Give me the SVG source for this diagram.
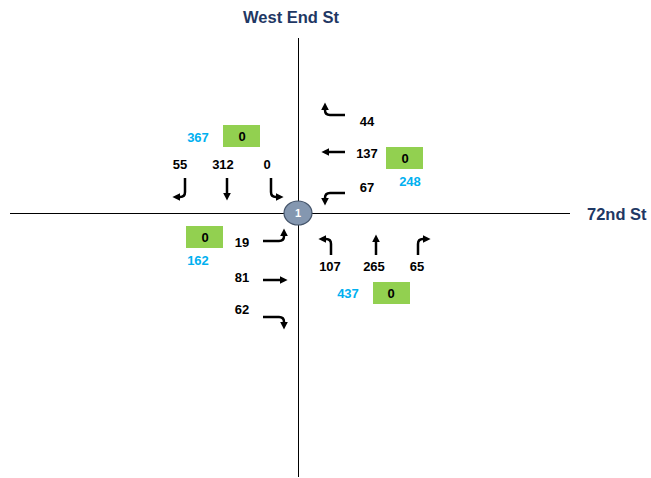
<svg xmlns="http://www.w3.org/2000/svg" width="651" height="478" viewBox="0 0 651 478">
<style>
.street{font-family:"Liberation Sans",Arial,sans-serif;font-weight:bold;font-size:16.5px;fill:#1f3864}
.vol{font-family:"Liberation Sans",Arial,sans-serif;font-weight:bold;font-size:13px;fill:#000;text-anchor:middle;dominant-baseline:central}
.tot{font-family:"Liberation Sans",Arial,sans-serif;font-weight:bold;font-size:13px;fill:#00b0f0;text-anchor:middle;dominant-baseline:central}
.box{fill:#92d050}
.arr{fill:none;stroke:#000;stroke-width:2.5;marker-end:url(#ah)}
.axis{stroke:#000;stroke-width:1}
</style>
<defs>
<marker id="ah" viewBox="0 0 10 10" refX="3" refY="5" markerWidth="3.2" markerHeight="3.2" orient="auto" markerUnits="strokeWidth">
<path d="M0,0 L10,5 L0,10 z" fill="#000"/>
</marker>
</defs>
<rect width="651" height="478" fill="#fff"/>
<g id="streets">
<text class="street" x="291" y="23" text-anchor="middle">West End St</text>
<text class="street" x="587" y="220">72nd St</text>
</g>
<g id="connectors">
<line class="axis" x1="298.5" y1="38" x2="298.5" y2="477"/>
<line class="axis" x1="10" y1="213.5" x2="570" y2="213.5"/>
</g>
<g id="node1">
<ellipse cx="298" cy="213" rx="14" ry="12" fill="#8497b0" stroke="#44546a" stroke-width="1.2"/>
<text x="298" y="213" font-family="Liberation Sans,Arial,sans-serif" font-weight="bold" font-size="11" fill="#fff" text-anchor="middle" dominant-baseline="central">1</text>
</g>
<g id="southbound">
<rect class="box" x="223" y="125" width="37" height="22"/>
<text class="vol" x="242" y="136">0</text>
<text class="tot" x="198" y="137">367</text>
<text class="vol" x="180" y="164">55</text>
<text class="vol" x="223" y="164">312</text>
<text class="vol" x="267" y="164">0</text>
<path class="arr" d="M185 178 V192 Q185 197 180 197 H178"/>
<path class="arr" d="M227 178 V195"/>
<path class="arr" d="M271 178 V192 Q271 197 276 197 H278"/>
</g>
<g id="westbound">
<rect class="box" x="386" y="147" width="37" height="22"/>
<text class="vol" x="405" y="158">0</text>
<text class="tot" x="410" y="181">248</text>
<text class="vol" x="367" y="121">44</text>
<text class="vol" x="367" y="153">137</text>
<text class="vol" x="367" y="187">67</text>
<path class="arr" d="M345 115 H330 Q325 115 325 110 V108"/>
<path class="arr" d="M345 152 H327"/>
<path class="arr" d="M345 193 H330 Q325 193 325 198 V200"/>
</g>
<g id="eastbound">
<rect class="box" x="186" y="226" width="37" height="22"/>
<text class="vol" x="205" y="237">0</text>
<text class="tot" x="198" y="260">162</text>
<text class="vol" x="242" y="242">19</text>
<text class="vol" x="242" y="277">81</text>
<text class="vol" x="242" y="309">62</text>
<path class="arr" d="M263 241 H279 Q284 241 284 236 V234"/>
<path class="arr" d="M263 280 H282"/>
<path class="arr" d="M263 317 H279 Q284 317 284 322 V324"/>
</g>
<g id="northbound">
<rect class="box" x="373" y="282" width="37" height="22"/>
<text class="vol" x="391" y="293">0</text>
<text class="tot" x="348" y="293">437</text>
<text class="vol" x="330" y="266">107</text>
<text class="vol" x="374" y="266">265</text>
<text class="vol" x="417" y="266">65</text>
<path class="arr" d="M331 255 V244 Q331 239 326 239 H324"/>
<path class="arr" d="M376 255 V240"/>
<path class="arr" d="M418 255 V244 Q418 239 423 239 H425"/>
</g>
</svg>
